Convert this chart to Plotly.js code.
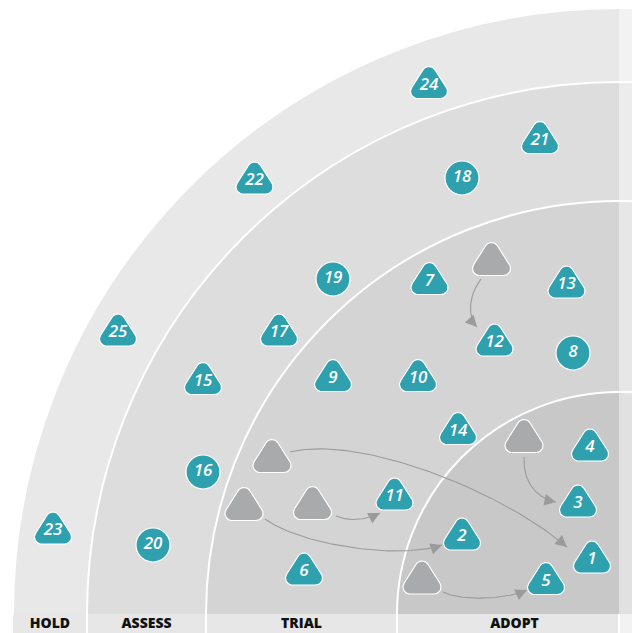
<!DOCTYPE html>
<html>
<head>
<meta charset="utf-8">
<script src="https://cdn.plot.ly/plotly-3.0.1.min.js"></script>
<style>
html,body{margin:0;padding:0;background:#fff;}
#chart{width:632px;height:633px;}
</style>
</head>
<body>
<div id="chart"></div>
<script>
// ---------- DATA ----------
// Rings, innermost first; radius in chart units (origin = radar centre)
const ringNames = ["ADOPT", "TRIAL", "ASSESS", "HOLD"];
const ringRadius = [222, 413, 532, 606];

// Blips: position measured from the radar centre (x leftwards negative, y upwards)
const blipIds   = [1, 2, 3, 4, 5, 6, 7, 8, 9, 10, 11, 12, 13, 14, 15, 16, 17, 18, 19, 20, 21, 22, 23, 24, 25];
const blipX     = [-27, -157, -41, -29, -73, -315, -189.5, -46, -286, -201, -224.5, -124.5, -52.5, -161, -416, -416, -340, -157, -286, -466, -79, -364.5, -566, -190, -501];
const blipY     = [57, 80, 113, 169, 35.5, 45, 335.5, 261, 238.5, 238.5, 120, 274, 332, 185.5, 235.5, 142, 284, 436, 335, 69, 476.5, 436, 86, 531.5, 284];
const blipShape = ["tri","tri","tri","tri","tri","tri","tri","circle","tri","tri","tri","tri","tri","tri","tri","circle","tri","circle","circle","circle","tri","tri","tri","tri","tri"];

// Moved blips: previous position and the blip they moved to
const movedFromX = [-127.5, -95, -347, -375, -306.5, -197];
const movedFromY = [355, 178, 158, 110, 111, 36.5];
const movedToId  = [12, 3, 1, 2, 11, 5];

// ---------- STYLE / LAYOUT HELPERS ----------
const ringColors = ["#c8c8c8", "#d3d4d3", "#dcdddc", "#e7e8e7"];
const TEAL = "#2ea0ae";
const GREY = "#a9aaac";
const ARROW = "#9a9b9d";
const X_RANGE = [-619, 13];
const Y_RANGE = [-19, 614];

// arrow curve attachment (start offset from old blip, end offset from new blip, bezier handles)
const arrowGeom = [
  {s:[-10.5,-20], e:[-17.5,13],  c1:[-11,-14], c2:[-11,12]},
  {s:[0,-21],     e:[-22,-1],    c1:[-1,-25],  c2:[-20,4]},
  {s:[18,4],      e:[-25,10],    c1:[70,17],   c2:[-67,57]},
  {s:[21,-15],    e:[-20,-11],   c1:[35,-26],  c2:[-42,-15]},
  {s:[23.5,-13],  e:[-14.5,-19], c1:[14,-6],   c2:[-14,-7]},
  {s:[21,-14.5],  e:[-19,-11.5], c1:[17,-9],   c2:[-22,-10]}
];

function roundedTri(cx, cy, W, H, r, xs, ys) {
  const A = [cx, cy + H/2 - r];
  const B = [cx - (W/2 - r), cy - H/2 + r];
  const C = [cx + (W/2 - r), cy - H/2 + r];
  const v = [A, B, C];
  let first = null;
  for (let i = 0; i < 3; i++) {
    const V = v[i], P = v[(i+2)%3], N = v[(i+1)%3];
    const d1 = [V[0]-P[0], V[1]-P[1]], d2 = [N[0]-V[0], N[1]-V[1]];
    let a1 = Math.atan2(-d1[0], d1[1]);
    let a2 = Math.atan2(-d2[0], d2[1]);
    if (a2 < a1) a2 += 2*Math.PI;
    for (let k = 0; k <= 10; k++) {
      const a = a1 + (a2 - a1) * k / 10;
      const px = V[0] + r*Math.cos(a), py = V[1] + r*Math.sin(a);
      if (!first) first = [px, py];
      xs.push(px); ys.push(py);
    }
  }
  xs.push(first[0]); ys.push(first[1]);
  xs.push(null); ys.push(null);
}

const traces = [];
const annotations = [];

// arrows
movedFromX.forEach((fx, i) => {
  const fy = movedFromY[i];
  const ti = blipIds.indexOf(movedToId[i]);
  const g = arrowGeom[i];
  const P0 = [fx + g.s[0], fy + g.s[1]];
  const P3 = [blipX[ti] + g.e[0], blipY[ti] + g.e[1]];
  const P1 = [P0[0] + g.c1[0], P0[1] + g.c1[1]];
  const P2 = [P3[0] + g.c2[0], P3[1] + g.c2[1]];
  const xs = [], ys = [];
  for (let k = 0; k <= 60; k++) {
    const t = k/60, u = 1-t;
    const b0 = u*u*u, b1 = 3*u*u*t, b2 = 3*u*t*t, b3 = t*t*t;
    xs.push(b0*P0[0] + b1*P1[0] + b2*P2[0] + b3*P3[0]);
    ys.push(b0*P0[1] + b1*P1[1] + b2*P2[1] + b3*P3[1]);
  }
  traces.push({type:"scatter", mode:"lines", x:xs, y:ys, line:{color:ARROW, width:1.1}, hoverinfo:"skip", showlegend:false});
  const dx = P3[0]-P2[0], dy = P3[1]-P2[1], L = Math.hypot(dx, dy);
  annotations.push({x:P3[0], y:P3[1], ax:P3[0]-dx/L*8, ay:P3[1]-dy/L*8, axref:"x", ayref:"y", xref:"x", yref:"y",
    text:"", showarrow:true, arrowhead:2, arrowsize:2.1, arrowwidth:1.1, arrowcolor:ARROW, standoff:0});
});

// grey (previous position) triangles
{
  const xs = [], ys = [];
  movedFromX.forEach((fx, i) => roundedTri(fx, movedFromY[i], 38, 33, 7, xs, ys));
  traces.push({type:"scatter", mode:"lines", x:xs, y:ys, fill:"toself", fillcolor:GREY,
    line:{color:"#ffffff", width:1.2}, hoverinfo:"skip", showlegend:false});
}

// teal triangles
{
  const xs = [], ys = [];
  blipIds.forEach((id, i) => { if (blipShape[i] === "tri") roundedTri(blipX[i], blipY[i], 37, 32, 7, xs, ys); });
  traces.push({type:"scatter", mode:"lines", x:xs, y:ys, fill:"toself", fillcolor:TEAL,
    line:{color:"#ffffff", width:1.2}, hoverinfo:"skip", showlegend:false});
}

// teal circles
{
  const cx = [], cy = [];
  blipIds.forEach((id, i) => { if (blipShape[i] === "circle") { cx.push(blipX[i]); cy.push(blipY[i]); } });
  traces.push({type:"scatter", mode:"markers", x:cx, y:cy,
    marker:{symbol:"circle", size:34, color:TEAL, line:{color:"#ffffff", width:1.2}}, hoverinfo:"skip", showlegend:false});
}

// blip numbers
traces.push({type:"scatter", mode:"text", x:blipX,
  y:blipY.map((y, i) => blipShape[i] === "tri" ? y - 3 : y),
  text:blipIds.map(String),
  textfont:{family:"Open Sans, Noto Sans, sans-serif", size:17, color:"#ffffff", style:"italic", weight:600},
  hoverinfo:"skip", showlegend:false});

// ring labels in bottom band
{
  const lx = ringNames.map((n, i) => {
    const left = -ringRadius[i];
    const right = i === 0 ? X_RANGE[1] : -ringRadius[i-1];
    return (left + right) / 2;
  });
  traces.push({type:"scatter", mode:"text", x:lx, y:ringNames.map(() => -10), text:ringNames,
    textfont:{family:"Open Sans, Noto Sans, sans-serif", size:14, color:"#111111", weight:800},
    hoverinfo:"skip", showlegend:false});
}

// shapes
const shapes = [];
for (let i = ringRadius.length - 1; i >= 0; i--) {
  const R = ringRadius[i];
  shapes.push({type:"circle", xref:"x", yref:"y", x0:-R, x1:R, y0:-R, y1:R,
    fillcolor:ringColors[i], line:{color:"#ffffff", width:2}, layer:"below"});
}
shapes.push({type:"rect", xref:"x", yref:"y", x0:-ringRadius[3], x1:X_RANGE[1], y0:Y_RANGE[0], y1:0,
  fillcolor:"#e6e7e6", line:{width:0}, layer:"below"});
[ringRadius[2], ringRadius[1], ringRadius[0], 0].forEach(R => {
  shapes.push({type:"line", xref:"x", yref:"y", x0:-R, x1:-R, y0:Y_RANGE[0], y1:0,
    line:{color:"#ffffff", width:2}, layer:"below"});
});
shapes.push({type:"rect", xref:"x", yref:"y", x0:0, x1:X_RANGE[1], y0:Y_RANGE[0], y1:Y_RANGE[1],
  fillcolor:"rgba(255,255,255,0.45)", line:{width:0}, layer:"below"});

const layout = {
  width:632, height:633,
  margin:{l:0, r:0, t:0, b:0, pad:0},
  paper_bgcolor:"#ffffff", plot_bgcolor:"#ffffff",
  xaxis:{range:X_RANGE, visible:false, showgrid:false, zeroline:false, fixedrange:true},
  yaxis:{range:Y_RANGE, visible:false, showgrid:false, zeroline:false, fixedrange:true},
  showlegend:false, hovermode:false,
  shapes:shapes, annotations:annotations
};

Plotly.newPlot("chart", traces, layout, {staticPlot:true, displayModeBar:false});
</script>
</body>
</html>
